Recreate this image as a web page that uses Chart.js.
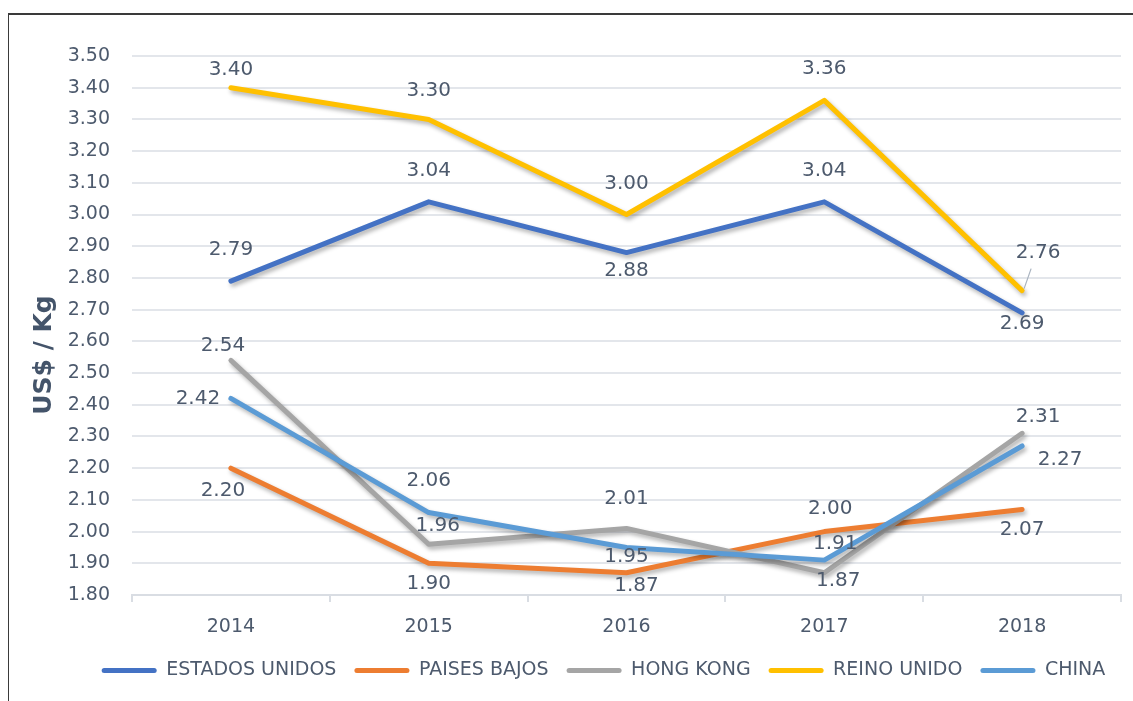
<!DOCTYPE html>
<html>
<head>
<meta charset="utf-8">
<script src="https://cdn.jsdelivr.net/npm/chart.js@4"></script>
<style>
  html, body { margin: 0; padding: 0; background: #fff; }
  #frame { position: absolute; left: 8px; top: 13px; width: 1200px; height: 800px;
           border-left: 1px solid #3a3a3a; border-top: 2px solid #3a3a3a; }
  #wrap { position: absolute; left: 0; top: 0; width: 1133px; height: 701px; }
</style>
</head>
<body>
<div id="frame"></div>
<div id="wrap"><canvas id="myChart" width="1133" height="701"></canvas></div>
<script>
var years = ['2014', '2015', '2016', '2017', '2018'];
var seriesNames = ['ESTADOS UNIDOS', 'PAISES BAJOS', 'HONG KONG', 'REINO UNIDO', 'CHINA'];
var estadosUnidos = [2.79, 3.04, 2.88, 3.04, 2.69];
var paisesBajos = [2.20, 1.90, 1.87, 2.00, 2.07];
var hongKong = [2.54, 1.96, 2.01, 1.87, 2.31];
var reinoUnido = [3.40, 3.30, 3.00, 3.36, 2.76];
var china = [2.42, 2.06, 1.95, 1.91, 2.27];
var colors = ['#4472C4', '#ED7D31', '#A5A5A5', '#FFC000', '#5B9BD5'];

// label placement (offset of label centre from the point, px)
var labelOffsets = [
  [[0, -31], [0, -31], [0, 18], [0, -31], [0, 11]],
  [[-8, 23], [0, 21], [10, 13], [6, -23], [0, 20]],
  [[-8, -15], [9, -18], [0, -30], [14, 8], [16, -17]],
  [[0, -18], [0, -29], [0, -31], [0, -32], [16, -38]],
  [[-33, 0], [0, -32], [0, 9], [11, -16], [38, 14]]
];
var textColor = '#4d5a6d';

var shadowPlugin = {
  id: 'shadow',
  beforeDatasetDraw: function (chart) {
    var c = chart.ctx;
    c.save();
    c.shadowColor = 'rgba(0,0,0,0.3)';
    c.shadowBlur = 4;
    c.shadowOffsetX = 2;
    c.shadowOffsetY = 3;
  },
  afterDatasetDraw: function (chart) {
    chart.ctx.restore();
  }
};

// nudge the legend so it is centred like the original
var legendShift = {
  id: 'legendShift',
  afterLayout: function (chart) {
    chart.legend.left += 33;
    chart.legend.right += 33;
  }
};

var labelPlugin = {
  id: 'pointLabels',
  afterDatasetsDraw: function (chart) {
    var c = chart.ctx;
    c.save();
    c.font = '20px "DejaVu Sans"';
    c.fillStyle = textColor;
    c.textAlign = 'center';
    c.textBaseline = 'middle';
    chart.data.datasets.forEach(function (ds, i) {
      var meta = chart.getDatasetMeta(i);
      meta.data.forEach(function (pt, j) {
        var off = labelOffsets[i][j];
        c.fillText(ds.data[j].toFixed(2), pt.x + off[0], pt.y + off[1]);
        if (i === 3 && j === 4) {
          // leader line for 2.76
          c.strokeStyle = '#a9b3c0';
          c.lineWidth = 1.2;
          c.beginPath();
          c.moveTo(pt.x + 9, pt.y - 22);
          c.lineTo(pt.x + 2, pt.y - 2);
          c.stroke();
        }
      });
    });
    c.restore();
  }
};

var yTitlePlugin = {
  id: 'yTitle',
  afterDraw: function (chart) {
    var c = chart.ctx;
    c.save();
    c.translate(44, 355);
    c.rotate(-Math.PI / 2);
    c.font = 'bold 25px "DejaVu Sans"';
    c.fillStyle = '#44546a';
    c.textAlign = 'center';
    c.textBaseline = 'middle';
    c.fillText('US$ / Kg', 0, 0);
    c.restore();
  }
};

var allSeries = [estadosUnidos, paisesBajos, hongKong, reinoUnido, china];

var ctx = document.getElementById('myChart');
var myChart = new Chart(ctx, {
  type: 'line',
  data: {
    labels: years,
    datasets: allSeries.map(function (vals, i) {
      return {
        label: seriesNames[i],
        data: vals,
        borderColor: colors[i],
        backgroundColor: colors[i],
        borderWidth: 5,
        pointRadius: 0,
        tension: 0,
        borderCapStyle: 'round',
        borderJoinStyle: 'round',
        order: 4 - i
      };
    })
  },
  options: {
    responsive: false,
    animation: false,
    layout: { padding: { left: 20, right: 12, top: 56, bottom: 11 } },
    plugins: {
      tooltip: { enabled: false },
      legend: {
        position: 'bottom',
        labels: {
          boxWidth: 55,
          boxHeight: 5,
          padding: 18,
          useBorderRadius: true,
          borderRadius: 2.5,
          color: textColor,
          font: { family: '"DejaVu Sans"', size: 19 },
          sort: function (a, b) { return a.datasetIndex - b.datasetIndex; },
          generateLabels: function (chart) {
            return Chart.defaults.plugins.legend.labels.generateLabels(chart).map(function (l) {
              l.lineWidth = 0;
              return l;
            });
          }
        }
      }
    },
    scales: {
      x: {
        offset: true,
        grid: { offset: true, drawOnChartArea: false, drawTicks: true, tickLength: 7, color: '#d9dde3', lineWidth: 2 },
        border: { display: true, color: '#d9dde3', width: 2 },
        ticks: { color: textColor, padding: 14, font: { family: '"DejaVu Sans"', size: 19 } },
        afterFit: function (scale) { scale.height = 48; }
      },
      y: {
        min: 1.8,
        max: 3.5,
        grid: { color: '#e3e6eb', lineWidth: 2, drawTicks: false },
        border: { display: false },
        ticks: {
          stepSize: 0.1,
          padding: 22,
          color: textColor,
          font: { family: '"DejaVu Sans"', size: 19 },
          callback: function (v) { return Number(v).toFixed(2); }
        },
        afterFit: function (scale) { scale.width = 112; }
      }
    }
  },
  plugins: [shadowPlugin, legendShift, labelPlugin, yTitlePlugin]
});
</script>
</body>
</html>
